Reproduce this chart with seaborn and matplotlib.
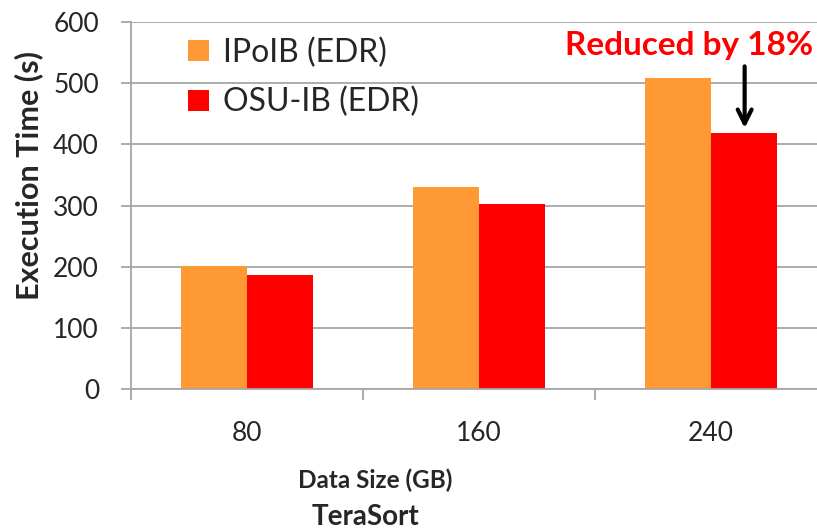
import matplotlib
matplotlib.use("Agg")
import matplotlib.pyplot as plt
import seaborn as sns
import pandas as pd
from matplotlib.ticker import FixedLocator

sizes = ["80", "160", "240"]
ipoib = [201, 331, 509]
osuib = [186, 302, 419]
series_names = ["IPoIB (EDR)", "OSU-IB (EDR)"]
colors = ["#FF9933", "#FF0000"]

df = pd.DataFrame({
    "size": sizes * 2,
    "time": ipoib + osuib,
    "series": [series_names[0]] * 3 + [series_names[1]] * 3,
})

sns.set_theme(style="white")
plt.rcParams["font.family"] = ["Lato", "DejaVu Sans"]

fig = plt.figure(figsize=(8.17, 5.31), dpi=100)
ax = fig.add_axes([131/817, 1-389/531, 1-131/817, (389-22)/531])

sns.barplot(data=df, x="size", y="time", hue="series", palette=colors,
            width=0.57, saturation=1, ax=ax, edgecolor="none", linewidth=0)

ax.set_ylim(0, 600)
ax.set_xlim(-0.5, -0.5 + (817-131)/232)
ax.set_yticks(range(0, 601, 100))
ax.yaxis.grid(True, color="#A6A6A6", linewidth=1.3)
ax.set_axisbelow(True)
for s in ["top", "right"]:
    ax.spines[s].set_visible(False)
for s in ["left", "bottom"]:
    ax.spines[s].set_color("#A6A6A6")
    ax.spines[s].set_linewidth(1.3)

ax.tick_params(axis="y", which="major", left=True, length=7, width=1.3,
               color="#A6A6A6", labelsize=19, pad=16)
ax.tick_params(axis="x", which="major", bottom=False, labelsize=19, pad=17)
ax.xaxis.set_minor_locator(FixedLocator([-0.5, 0.5, 1.5]))
ax.tick_params(axis="x", which="minor", bottom=True, length=8, width=1.3,
               color="#A6A6A6")
ax.set_xlabel("")
ax.set_ylabel("")

fig.text(29/817, 1-176/531, "Execution Time (s)", rotation=90, ha="center",
         va="center", fontsize=22, fontweight="bold")
fig.text(375/817, 1-480/531, "Data Size (GB)", ha="center", va="center",
         fontsize=17.5, fontweight="bold")
fig.text(365/817, 1-517/531, "TeraSort", ha="center", va="center",
         fontsize=20, fontweight="bold")

leg = ax.legend(loc="upper left", bbox_to_anchor=(0.055, 1.01), frameon=False,
                fontsize=23, handlelength=0.65, handleheight=0.65,
                handletextpad=0.45, labelspacing=0.6, borderaxespad=0.2)

ax.text(1.905, 562, "Reduced by 18%", color="#FF0000", fontsize=24,
        fontweight="bold", ha="center", va="center")
ax.annotate("", xy=(2.145, 422), xytext=(2.145, 532),
            arrowprops=dict(arrowstyle="->", color="black", lw=3,
                            mutation_scale=25))

fig.savefig("out.png", dpi=100)
